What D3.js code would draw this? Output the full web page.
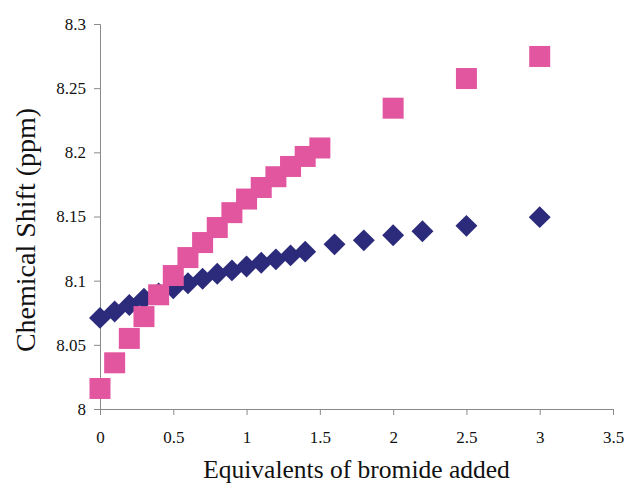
<!doctype html>
<meta charset="utf-8">
<script src="https://d3js.org/d3.v7.min.js"></script>
<style>
  body { margin: 0; background: #fff; }
</style>
<body>
<script>

var width = 629;
var height = 489;
var serif = "Liberation Serif";

// series: diamonds (navy)
var diamondX = [0, 0.1, 0.2, 0.3, 0.4, 0.5, 0.6, 0.7, 0.8, 0.9, 1.0, 1.1, 1.2, 1.3, 1.4, 1.6, 1.8, 2.0, 2.2, 2.5, 3.0];
var diamondY = [8.071, 8.076, 8.081, 8.086, 8.090, 8.094, 8.098, 8.1015, 8.1054, 8.108, 8.111, 8.114, 8.1166, 8.1197, 8.1226, 8.1283, 8.1314, 8.1354, 8.1385, 8.1427, 8.1495];

// series: squares (pink)
var squareX = [0, 0.1, 0.2, 0.3, 0.4, 0.5, 0.6, 0.7, 0.8, 0.9, 1.0, 1.1, 1.2, 1.3, 1.4, 1.5, 2.0, 2.5, 3.0];
var squareY = [8.016, 8.036, 8.055, 8.072, 8.089, 8.104, 8.118, 8.1297, 8.1414, 8.153, 8.1636, 8.1726, 8.181, 8.189, 8.1968, 8.2034, 8.2344, 8.2575, 8.2747];

var xTicks = [0, 0.5, 1, 1.5, 2, 2.5, 3, 3.5];
var yTicks = [8, 8.05, 8.1, 8.15, 8.2, 8.25, 8.3];

var margin = {left: 100, top: 24, right: 16, bottom: 80};

var svg = d3.select("body")
        .append("svg")
        .attr("width", width)
        .attr("height", height);

var x = d3.scaleLinear()
        .domain([0, 3.5])
        .range([margin.left, width - margin.right]);

var y = d3.scaleLinear()
        .domain([8, 8.3])
        .range([height - margin.bottom, margin.top]);

svg.append("g")
        .attr("transform", "translate(0," + y(8) + ")")
        .call(d3.axisBottom(x).tickValues(xTicks).tickSize(6).tickPadding(16)
            .tickFormat(function(d){ return String(d); }));

svg.append("g")
        .attr("transform", "translate(" + x(0) + ",0)")
        .call(d3.axisLeft(y).tickValues(yTicks).tickSize(6).tickPadding(8)
            .tickFormat(function(d){ return String(+d.toFixed(2)); }));

svg.selectAll(".domain, .tick line").attr("stroke", "#8a8a8a");
svg.selectAll("g").attr("font-family", serif).attr("font-size", 17);
svg.selectAll(".tick text").attr("fill", "#111");

svg.append("text")
        .attr("x", x(1.75))
        .attr("y", 478)
        .attr("text-anchor", "middle")
        .attr("font-family", serif)
        .attr("font-size", 25.5)
        .attr("fill", "#111")
        .text("Equivalents of bromide added");

svg.append("text")
        .attr("transform", "translate(35," + 230 + ") rotate(-90)")
        .attr("text-anchor", "middle")
        .attr("font-family", serif)
        .attr("font-size", 28)
        .attr("fill", "#111")
        .text("Chemical Shift (ppm)");

var diamonds = d3.range(diamondX.length).map(function(i){ return [diamondX[i], diamondY[i]]; });
var squares = d3.range(squareX.length).map(function(i){ return [squareX[i], squareY[i]]; });

var diamond = d3.symbol().type(d3.symbolSquare).size(240);
var square = d3.symbol().type(d3.symbolSquare).size(441);

svg.append("g").selectAll("path")
        .data(diamonds)
        .enter()
        .append("path")
        .attr("d", diamond)
        .attr("transform", function(d){ return "translate(" + x(d[0]) + "," + y(d[1]) + ") rotate(45)"; })
        .attr("fill", "#2c2a7b");

svg.append("g").selectAll("path")
        .data(squares)
        .enter()
        .append("path")
        .attr("d", square)
        .attr("transform", function(d){ return "translate(" + x(d[0]) + "," + y(d[1]) + ")"; })
        .attr("fill", "#e2559f");

</script>
